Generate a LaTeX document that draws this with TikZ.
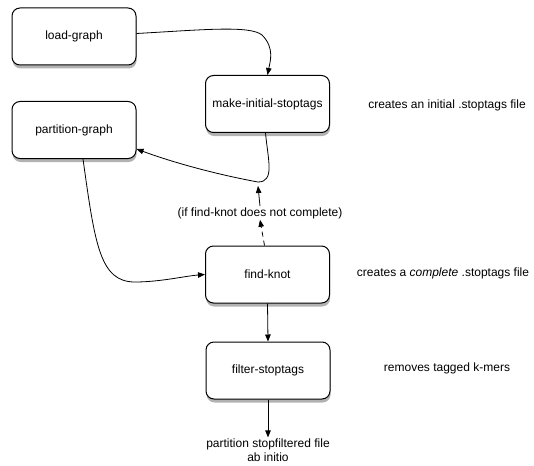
\documentclass[tikz,border=0pt]{standalone}
\usepackage{fontspec}
\setmainfont{Liberation Sans}
\usetikzlibrary{arrows.meta,shadows}
\begin{document}
\begin{tikzpicture}[x=1pt,y=-1pt,
  every node/.style={font=\fontsize{12}{14}\selectfont},
  stepbox/.style={draw=black,line width=1pt,fill=white,rounded corners=8pt,
    minimum width=124pt,minimum height=57pt,
    drop shadow={shadow xshift=0.6pt,shadow yshift=-3.5pt,opacity=0.3,fill=black}},
  conn/.style={line width=0.8pt,-{Triangle[length=7pt,width=5.5pt]}},
  note/.style={align=center,inner sep=1pt}]
\useasboundingbox (0,0) rectangle (534,465);
\node[stepbox] (lg) at (74,36.5) {load-graph};
\node[stepbox] (mis) at (267.5,104) {make-initial-stoptags};
\node[stepbox] (pg) at (74,130) {partition-graph};
\node[stepbox] (fk) at (267.5,274.5) {find-knot};
\node[stepbox] (fs) at (268,370.5) {filter-stoptags};
\node[note] (out) at (268,450) {partition stopfiltered file\\ab initio};
\node[note] (n1) at (447,105) {creates an initial .stoptags file};
\node[note] (n2) at (443,273) {creates a \textit{complete} .stoptags file};
\node[note] (n3) at (447,368) {removes tagged k-mers};
\node[note,fill=white] (cond) at (260,213) {(if find-knot does not complete)};
\coordinate (j) at (258,182);
\coordinate (jt) at (258,186);
\draw[conn] ([yshift=3pt]lg.east) .. controls (200,30) and (250,25) .. (262,35)
  .. controls (275,48) and (270,62) .. (mis.north);
\draw[conn] ([xshift=-2pt]mis.south) .. controls (268,160) and (275,182) .. (j)
  .. controls (225,176) and (180,165) .. ([yshift=-19pt]pg.east);
\draw[conn,dashed,dash pattern=on 5pt off 4pt] ([xshift=-3pt]fk.north) -- (cond.south);
\draw[conn] (cond.north) -- (jt);
\draw[conn] ([xshift=9pt]pg.south) .. controls (95,245) and (100,282) .. (135,282)
  .. controls (160,282) and (185,276) .. (fk.west);
\draw[conn] (fk.south) -- (fs.north);
\draw[conn] (fs.south) -- (out.north);
\end{tikzpicture}
\end{document}
